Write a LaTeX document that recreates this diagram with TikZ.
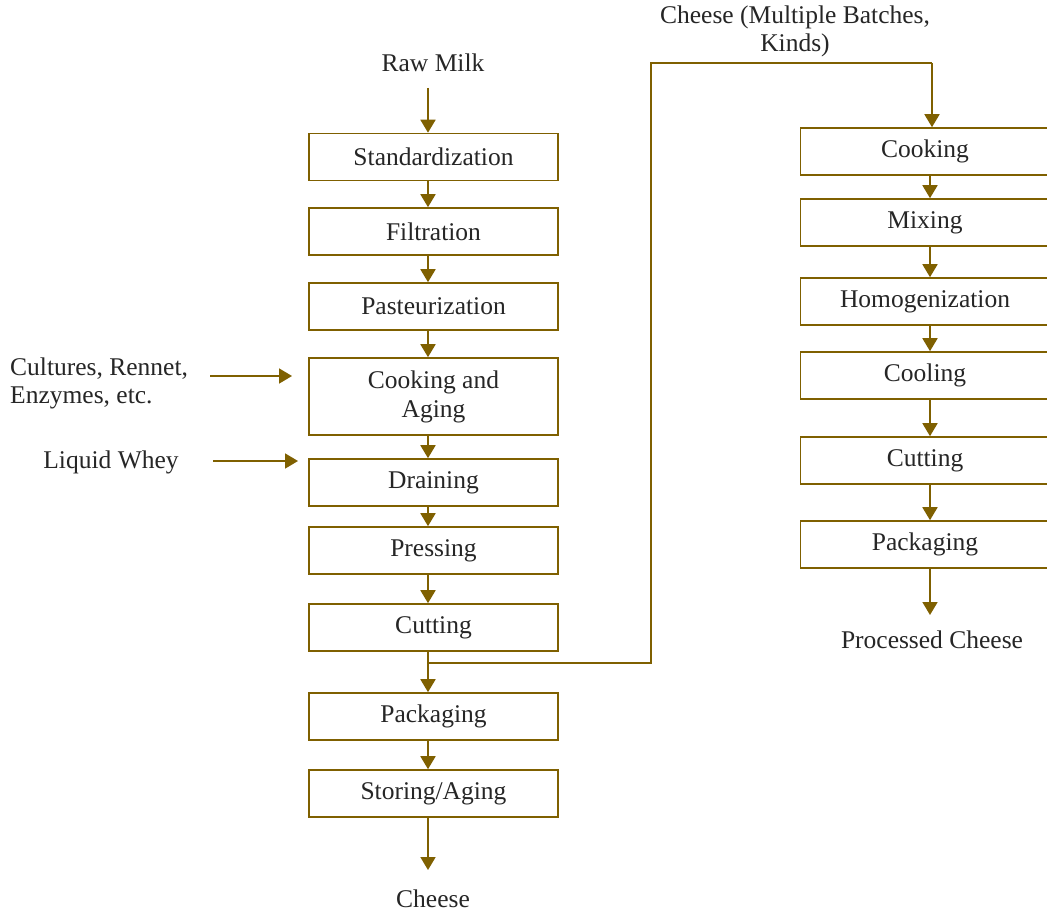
\documentclass[tikz,border=0pt]{standalone}
\usepackage{fontspec}
\setmainfont{Liberation Serif}
\usetikzlibrary{arrows.meta}
\definecolor{gold}{HTML}{7F6000}
\begin{document}
\begin{tikzpicture}[x=1pt,y=-1pt,
  box/.style={draw=gold,line width=1.6pt,minimum width=249pt,minimum height=47pt,inner sep=0pt,align=center,font=\fontsize{25.5}{29}\selectfont,text=black!85},
  lbl/.style={inner sep=0pt,font=\fontsize{25.5}{28}\selectfont,text=black!85},
  arr/.style={draw=gold,line width=1.8pt,-{Triangle[width=15pt,length=13pt]}},
  ln/.style={draw=gold,line width=1.8pt}]
\useasboundingbox (0,0) rectangle (1047,915);
\fill[white] (0,0) rectangle (1047,915);
% left column
\node[box] (std) at (433.5,157) {Standardization};
\node[box] (fil) at (433.5,231.5) {Filtration};
\node[box] (pas) at (433.5,306.5) {Pasteurization};
\node[box,minimum height=77pt] (coa) at (433.5,396.5) {Cooking and\\Aging};
\node[box] (dra) at (433.5,482.5) {Draining};
\node[box] (pre) at (433.5,550.5) {Pressing};
\node[box] (cut) at (433.5,627.5) {Cutting};
\node[box] (pac) at (433.5,716.5) {Packaging};
\node[box] (sto) at (433.5,793.5) {Storing/Aging};
% right column
\node[box] (cook) at (925,151.5) {Cooking};
\node[box] (mix) at (925,222.5) {Mixing};
\node[box] (hom) at (925,301.5) {Homogenization};
\node[box] (cool) at (925,375.5) {Cooling};
\node[box] (rcut) at (925,460.5) {Cutting};
\node[box] (rpac) at (925,544.5) {Packaging};
% labels
\node[lbl] (raw) at (433,63) {Raw Milk};
\node[lbl] (chs) at (433,899) {Cheese};
\node[lbl] (proc) at (932,640) {Processed Cheese};
\node[lbl,align=center] (multi) at (795,31) {Cheese (Multiple Batches,\\Kinds)};
\node[lbl,align=left,anchor=west] (cult) at (10,383) {Cultures, Rennet,\\Enzymes, etc.};
\node[lbl] (whey) at (111,462) {Liquid Whey};
% coordinates
\coordinate (r0) at (428,88);
\coordinate (c0) at (428,817);
\coordinate (c1) at (428,870);
\coordinate (p0) at (930,568);
\coordinate (p1) at (930,615);
\coordinate (j) at (428,663);
\coordinate (j1) at (651,663);
\coordinate (j2) at (651,63);
\coordinate (j3) at (932,63);
\coordinate (ca) at (210,376);
\coordinate (cb) at (292,376);
\coordinate (wa) at (213,461);
\coordinate (wb) at (298,461);
% left arrows
\draw[arr] (r0) -- ([xshift=-5.5pt]std.north);
\draw[arr] ([xshift=-5.5pt]std.south) -- ([xshift=-5.5pt]fil.north);
\draw[arr] ([xshift=-5.5pt]fil.south) -- ([xshift=-5.5pt]pas.north);
\draw[arr] ([xshift=-5.5pt]pas.south) -- ([xshift=-5.5pt]coa.north);
\draw[arr] ([xshift=-5.5pt]coa.south) -- ([xshift=-5.5pt]dra.north);
\draw[arr] ([xshift=-5.5pt]dra.south) -- ([xshift=-5.5pt]pre.north);
\draw[arr] ([xshift=-5.5pt]pre.south) -- ([xshift=-5.5pt]cut.north);
\draw[arr] ([xshift=-5.5pt]cut.south) -- ([xshift=-5.5pt]pac.north);
\draw[arr] ([xshift=-5.5pt]pac.south) -- ([xshift=-5.5pt]sto.north);
\draw[arr] (c0) -- (c1);
% branch
\draw[ln] (j) -- (j1) -- (j2) -- (j3);
\draw[arr] (j3) -- ([xshift=7pt]cook.north);
% right arrows
\draw[arr] ([xshift=5pt]cook.south) -- ([xshift=5pt]mix.north);
\draw[arr] ([xshift=5pt]mix.south) -- ([xshift=5pt]hom.north);
\draw[arr] ([xshift=5pt]hom.south) -- ([xshift=5pt]cool.north);
\draw[arr] ([xshift=5pt]cool.south) -- ([xshift=5pt]rcut.north);
\draw[arr] ([xshift=5pt]rcut.south) -- ([xshift=5pt]rpac.north);
\draw[arr] (p0) -- (p1);
% inputs
\draw[arr] (ca) -- (cb);
\draw[arr] (wa) -- (wb);
\end{tikzpicture}
\end{document}
